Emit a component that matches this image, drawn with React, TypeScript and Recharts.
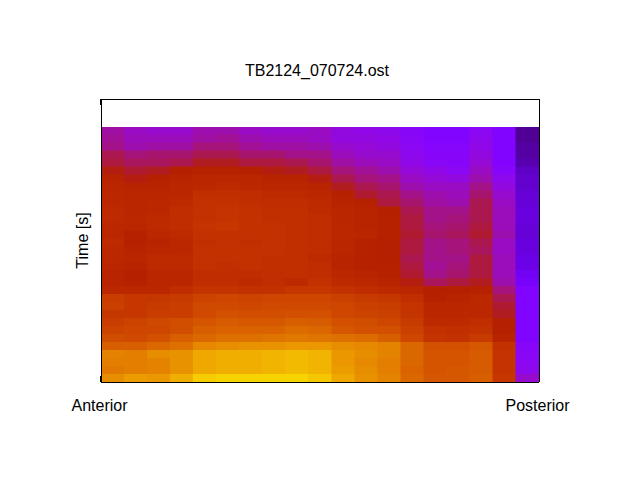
import { BarChart, Bar, Cell, XAxis, YAxis, ReferenceLine } from "recharts";

// colour index per cell, top row first, one list per position along the tube
const c00 = [39,40,41,45,46,49,52,53,54,54,55,55,54,53,55,54,54,53,52,52,54,62,63,60,62,64,67,72,80,79,78,82];
const c01 = [36,37,38,42,44,47,49,52,53,53,53,54,53,51,51,52,53,52,50,51,54,60,60,60,64,65,66,72,79,79,79,85];
const c02 = [35,37,39,43,44,48,51,52,53,54,54,55,55,54,52,53,55,55,53,53,54,60,61,62,66,65,68,74,82,80,80,84];
const c03 = [35,37,39,43,45,50,52,53,54,55,56,56,56,55,54,54,55,55,53,53,56,61,62,62,67,67,72,76,83,83,83,88];
const c04 = [38,39,42,45,48,51,53,54,57,58,58,58,59,58,57,58,58,58,56,56,59,64,66,66,69,72,74,81,87,87,87,93];
const c05 = [38,40,42,45,48,51,53,55,57,58,59,59,60,58,58,58,58,57,56,56,59,65,66,68,71,73,76,82,88,88,88,94];
const c06 = [36,38,40,43,46,50,53,54,56,57,58,58,58,58,57,58,58,58,56,55,58,64,65,67,70,73,76,83,88,88,88,94];
const c07 = [35,37,39,43,46,49,52,53,55,56,57,57,58,58,58,58,57,57,57,56,58,65,66,67,70,73,77,83,89,89,89,94];
const c08 = [35,37,39,41,45,48,52,53,55,56,57,57,57,57,57,57,57,57,57,55,60,65,66,68,72,75,78,84,90,90,90,94];
const c09 = [36,36,38,41,43,46,49,52,54,55,55,56,56,56,56,56,55,56,56,58,60,65,66,68,71,74,77,84,89,89,89,92];
const c10 = [33,33,35,37,39,42,45,48,51,52,53,53,54,54,53,53,52,52,54,55,58,63,65,65,68,70,76,82,84,84,85,87];
const c11 = [32,33,34,35,37,40,42,45,47,51,52,52,52,53,51,51,51,51,52,54,56,61,63,64,67,68,75,81,82,81,82,83];
const c12 = [31,32,33,35,36,38,41,43,45,46,50,51,51,51,50,50,50,51,51,52,55,60,62,63,65,68,72,80,80,79,79,80];
const c13 = [28,29,30,31,32,34,36,38,41,43,45,46,46,47,46,46,45,46,47,49,53,57,59,59,61,63,65,74,74,74,73,74];
const c14 = [25,26,27,28,29,32,34,36,38,39,41,41,42,43,41,41,41,40,41,44,50,51,53,54,55,58,59,68,69,69,69,70];
const c15 = [25,26,27,28,28,30,33,36,37,38,41,42,43,44,42,42,41,42,43,46,50,52,53,54,55,57,58,68,69,69,70,70];
const c16 = [30,31,32,33,34,36,38,41,43,45,45,45,46,47,45,44,46,46,46,48,51,54,54,54,56,58,61,70,71,71,71,72];
const c17 = [25,25,25,25,26,28,31,33,35,36,37,37,37,38,36,36,37,37,37,38,42,45,47,48,50,50,52,58,59,59,59,60];
const c18 = [10,10,11,11,12,14,15,15,16,16,17,17,16,16,17,17,18,18,20,22,25,25,25,25,25,25,25,28,29,30,31,35];

const columns = [c00,c01,c02,c03,c04,c05,c06,c07,c08,c09,c10,c11,c12,c13,c14,c15,c16,c17,c18];
const edgeLabels = ["Anterior", "Posterior"];

const colKeys = columns.map((_, i) => "p" + i);
const table = c00.map((_, row) => {
  const entry: Record<string, number> = { row };
  colKeys.forEach((k) => (entry[k] = 1));
  return entry;
});

// gnuplot rgbformulae 7,5,15
const toColor = (v: number) => {
  const x = v / 100;
  const r = Math.round(Math.sqrt(x) * 255);
  const g = Math.round(x * x * x * 255);
  const b = Math.round(Math.max(0, Math.sin(2 * Math.PI * x)) * 255);
  return `rgb(${r},${g},${b})`;
};

const font = "'Liberation Sans', Arial, sans-serif";
const textStyle = { fontFamily: font, fontSize: 16, fill: "#000" };
const axisStroke = { stroke: "#000", strokeWidth: 1 };
const plotHeight = 283;

// label under the plot, plus the short ticks gnuplot leaves at the first position, top and bottom
const EdgeTick = ({ x, y, payload, index }: any) => (
  <g>
    {index === 0 && (
      <>
        <line x1={x} x2={x} y1={y - 6} y2={y} stroke="#000" strokeWidth={2} />
        <line x1={x} x2={x} y1={y - plotHeight} y2={y - plotHeight + 6} stroke="#000" strokeWidth={2} />
      </>
    )}
    <text x={x - 1.5} y={y + 29} textAnchor="middle" style={{ ...textStyle, shapeRendering: "auto" }}>
      {payload.value === 0 ? edgeLabels[0] : edgeLabels[1]}
    </text>
  </g>
);

export default function App() {
  return (
    <div style={{ position: "absolute", left: 0, top: 0, width: 640, height: 480, background: "#fff", shapeRendering: "crispEdges" }}>
      <BarChart
        layout="vertical"
        width={640}
        height={480}
        data={table}
        barCategoryGap={0}
        barGap={0}
        margin={{ top: 79, right: 101, bottom: 68, left: 81 }}
      >
        <XAxis
          type="number"
          domain={[0, columns.length]}
          ticks={[0, columns.length]}
          interval={0}
          height={30}
          axisLine={axisStroke}
          tickLine={false}
          tickSize={0}
          tickMargin={0}
          tick={EdgeTick}
        />
        <XAxis
          xAxisId="title"
          orientation="top"
          type="number"
          domain={[0, columns.length]}
          height={20}
          axisLine={axisStroke}
          tickLine={false}
          tick={false}
          label={{ value: "TB2124_070724.ost", position: "top", offset: 3, dx: -3, style: textStyle }}
        />
        <YAxis
          dataKey="row"
          type="category"
          padding={{ top: 28, bottom: 0 }}
          width={20}
          axisLine={axisStroke}
          tickLine={false}
          tick={false}
          label={{ value: "Time [s]", angle: -90, position: "insideLeft", offset: 1, style: { ...textStyle, textAnchor: "middle" } }}
        />
        {colKeys.map((key, i) => (
          <Bar key={key} dataKey={key} stackId="t" isAnimationActive={false}>
            {columns[i].map((v, j) => (
              <Cell key={j} fill={toColor(v)} stroke={toColor(v)} strokeWidth={0.5} />
            ))}
          </Bar>
        ))}
        <ReferenceLine x={columns.length} stroke="#000" strokeWidth={1} ifOverflow="visible" />
      </BarChart>
    </div>
  );
}
